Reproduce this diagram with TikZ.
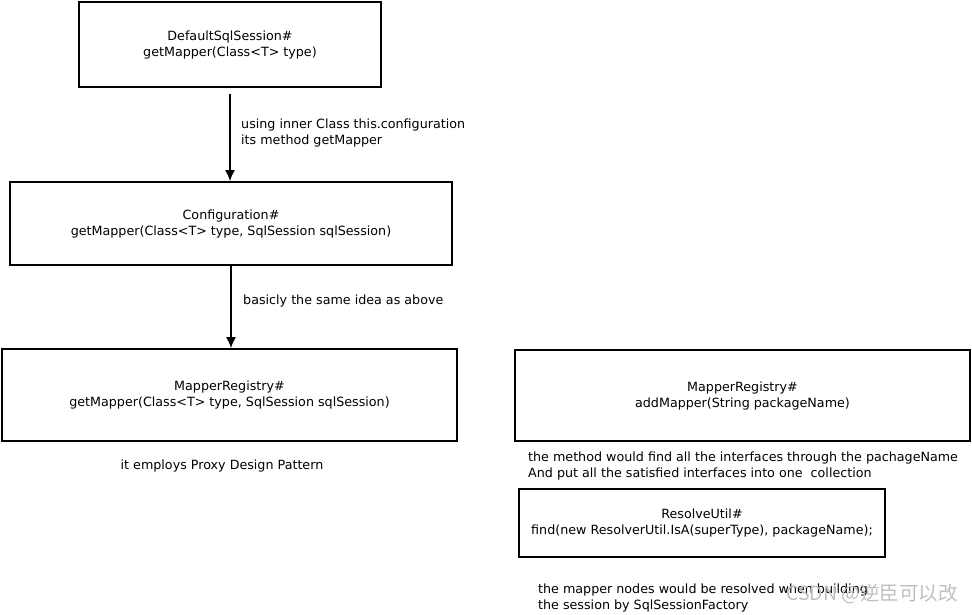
\documentclass[tikz,border=0pt]{standalone}
\usepackage{fontspec}
\setmainfont{DejaVu Sans}
\newfontfamily\cjk{Noto Sans CJK SC}
\usepackage{tikz}
\usetikzlibrary{arrows.meta}
\tikzset{>={Latex[length=11pt, width=10pt]}}
\tikzset{
    methodbox/.style={draw, line width=1.8pt, rectangle, align=center, inner sep=0pt},
    note/.style={align=left, anchor=west, inner sep=0pt},
    call/.style={->, line width=1.6pt}
}
\newcommand{\txt}{\fontsize{12.7}{16}\selectfont}

\begin{document}
\begin{tikzpicture}[x=1pt, y=-1pt, font=\txt]
    \useasboundingbox (0, 0) rectangle (972, 614);
    % left column: the getMapper chain
    \node[methodbox, minimum width=302pt, minimum height=85pt] (dss) at (230, 44.5) {DefaultSqlSession\#\\getMapper(Class<T> type)};
    \node[methodbox, minimum width=442pt, minimum height=83pt] (conf) at (231, 223.5) {Configuration\#\\getMapper(Class<T> type, SqlSession sqlSession)};
    \node[methodbox, minimum width=455pt, minimum height=92pt] (regget) at (229.5, 395) {MapperRegistry\#\\getMapper(Class<T> type, SqlSession sqlSession)};
    \draw[call] ([yshift=-6pt]dss.south) -- (dss.south |- conf.north);
    \draw[call] (conf.south) -- (conf.south |- regget.north);
    \node[note] (n1) at (241, 133) {using inner Class this.configuration\\its method getMapper};
    \node[note] (n2) at (243, 301) {basicly the same idea as above};
    \node[inner sep=0pt] (n3) at (222, 466) {it employs Proxy Design Pattern};
    % right column: addMapper
    \node[methodbox, minimum width=455pt, minimum height=91pt] (regadd) at (742.5, 395.5) {MapperRegistry\#\\addMapper(String packageName)};
    \node[note] (n4) at (528, 466) {the method would find all the interfaces through the pachageName\\And put all the satisfied interfaces into one\ \ collection};
    \node[methodbox, minimum width=366pt, minimum height=68pt] (resolve) at (702, 523) {ResolveUtil\#\\find(new ResolverUtil.IsA(superType), packageName);};
    \node[note] (n5) at (538, 598) {the mapper nodes would be resolved when building\\the session by SqlSessionFactory};
    \node[anchor=east, inner sep=0pt, text=gray!50, font=\cjk\fontsize{19.5}{22}\selectfont] (wm) at (958, 594) {CSDN @逆臣可以改};
\end{tikzpicture}
\end{document}
